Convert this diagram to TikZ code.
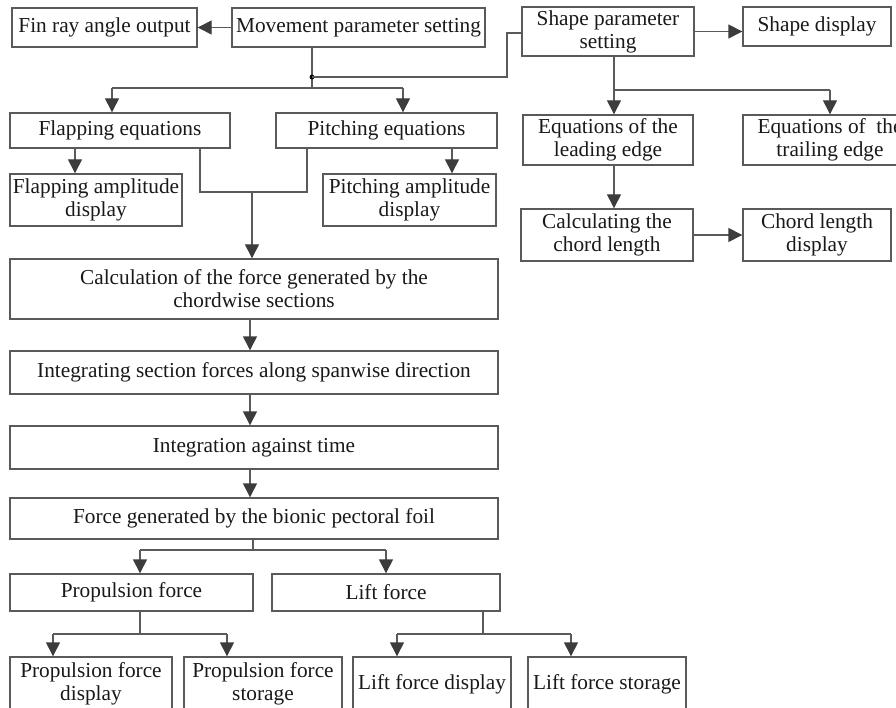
\documentclass[tikz,border=0pt]{standalone}
\usepackage{fontspec}
\setmainfont{Liberation Serif}
\usetikzlibrary{arrows.meta,calc}
\definecolor{boxc}{HTML}{5A5A5A}
\definecolor{arrc}{HTML}{3C3C3C}
\begin{document}
\begin{tikzpicture}[x=1pt,y=-1pt,
  bx/.style={draw=boxc,line width=1.4pt,rectangle,inner sep=0pt,align=center,
    font=\fontsize{21.3}{23}\selectfont,text=black!90},
  ln/.style={draw=boxc,line width=1.4pt},
  arr/.style={draw=boxc,line width=1.4pt,-{Triangle[length=14pt,width=14pt,color=arrc]}}]
\useasboundingbox (0,0) rectangle (896,708);
\clip (0,0) rectangle (896,708);
\fill[white] (0,0) rectangle (896,708);
% boxes
\node[bx,minimum width=185,minimum height=39] (fin) at (104.5,27.5) {Fin ray angle output};
\node[bx,minimum width=253,minimum height=39] (mov) at (358.5,27.5) {Movement parameter setting};
\node[bx,minimum width=172,minimum height=49] (shape) at (608,31.5) {Shape parameter\\setting};
\node[bx,minimum width=148,minimum height=39] (sdisp) at (817,26.5) {Shape display};
\node[bx,minimum width=220,minimum height=35] (flapeq) at (120,130.5) {Flapping equations};
\node[bx,minimum width=221,minimum height=35] (pitcheq) at (386.5,130.5) {Pitching equations};
\node[bx,minimum width=172,minimum height=52] (flapamp) at (96,200) {Flapping amplitude\\display};
\node[bx,minimum width=173,minimum height=52] (pitchamp) at (409.5,200) {Pitching amplitude\\display};
\node[bx,minimum width=170,minimum height=50] (lead) at (608,140) {Equations of the\\leading edge};
\node[bx,minimum width=174,minimum height=50] (trail) at (830,140) {Equations of~ the\\trailing edge};
\node[bx,minimum width=172,minimum height=52] (chord) at (607,235) {Calculating the\\chord length};
\node[bx,minimum width=148,minimum height=52] (cdisp) at (817,235) {Chord length\\display};
\node[bx,minimum width=488,minimum height=60] (calc) at (254,289) {Calculation of the force generated by the\\chordwise sections};
\node[bx,minimum width=488,minimum height=43] (integ) at (254,372.5) {Integrating section forces along spanwise direction};
\node[bx,minimum width=488,minimum height=43] (time) at (254,447.5) {Integration against time};
\node[bx,minimum width=488,minimum height=41] (force) at (254,518.5) {Force generated by the bionic pectoral foil};
\node[bx,minimum width=243,minimum height=37] (prop) at (131.5,592.5) {Propulsion force};
\node[bx,minimum width=228,minimum height=37] (lift) at (386,592.5) {Lift force};
\node[bx,minimum width=162,minimum height=54] (pdisp) at (91,684) {Propulsion force\\display};
\node[bx,minimum width=158,minimum height=54] (pstore) at (263,684) {Propulsion force\\storage};
\node[bx,minimum width=158,minimum height=54] (ldisp) at (432,684) {Lift force display};
\node[bx,minimum width=158,minimum height=54] (lstore) at (607,684) {Lift force storage};
% junction coordinates
\coordinate (jm) at (312,88);
\coordinate (dot) at (312,77);
\coordinate (jmr) at (507,77);
\coordinate (jmt) at (507,33);
\coordinate (jfl) at (112,88);
\coordinate (jpi) at (403,88);
\coordinate (jfa) at (75,0);
\coordinate (jpa) at (452,0);
\coordinate (jcl) at (200,192);
\coordinate (jcr) at (307,192);
\coordinate (jcm) at (252,192);
\coordinate (jx) at (250,0);
\coordinate (jf) at (253,550);
\coordinate (jfp) at (140,550);
\coordinate (jflift) at (386,550);
\coordinate (jp) at (140,634);
\coordinate (jpl) at (53,634);
\coordinate (jpr) at (227,634);
\coordinate (jl) at (483,634);
\coordinate (jll) at (397,634);
\coordinate (jlr) at (571,634);
\coordinate (js) at (614,90);
\coordinate (jsr) at (830,90);
% connectors
\draw[arr] (mov.west) -- (fin.east);
\draw[ln] (mov.south -| jm) -- (jm);
\draw[ln] (jfl) -- (jpi);
\draw[arr] (jfl) -- (flapeq.north -| jfl);
\draw[arr] (jpi) -- (pitcheq.north -| jpi);
\fill[black] (dot) circle (2.4);
\draw[ln] (dot) -- (jmr) -- (jmt) -- (shape.west |- jmt);
\draw[arr] (flapeq.south -| jfa) -- (flapamp.north -| jfa);
\draw[arr] (pitcheq.south -| jpa) -- (pitchamp.north -| jpa);
\draw[ln] (flapeq.south -| jcl) -- (jcl) -- (jcr) -- (pitcheq.south -| jcr);
\draw[arr] (jcm) -- (calc.north -| jcm);
\draw[arr] (calc.south -| jx) -- (integ.north -| jx);
\draw[arr] (integ.south -| jx) -- (time.north -| jx);
\draw[arr] (time.south -| jx) -- (force.north -| jx);
\draw[ln] (force.south -| jf) -- (jf);
\draw[ln] (jfp) -- (jflift);
\draw[arr] (jfp) -- (prop.north -| jfp);
\draw[arr] (jflift) -- (lift.north -| jflift);
\draw[ln] (prop.south -| jp) -- (jp);
\draw[ln] (jpl) -- (jpr);
\draw[arr] (jpl) -- (pdisp.north -| jpl);
\draw[arr] (jpr) -- (pstore.north -| jpr);
\draw[ln] (lift.south -| jl) -- (jl);
\draw[ln] (jll) -- (jlr);
\draw[arr] (jll) -- (ldisp.north -| jll);
\draw[arr] (jlr) -- (lstore.north -| jlr);
\draw[arr] (shape.east) -- (sdisp.west |- shape.east);
\draw[ln] (shape.south -| js) -- (js) -- (jsr);
\draw[arr] (js) -- (lead.north -| js);
\draw[arr] (jsr) -- (trail.north -| jsr);
\draw[arr] (lead.south -| js) -- (chord.north -| js);
\draw[arr] (chord.east) -- (cdisp.west);
\end{tikzpicture}
\end{document}
